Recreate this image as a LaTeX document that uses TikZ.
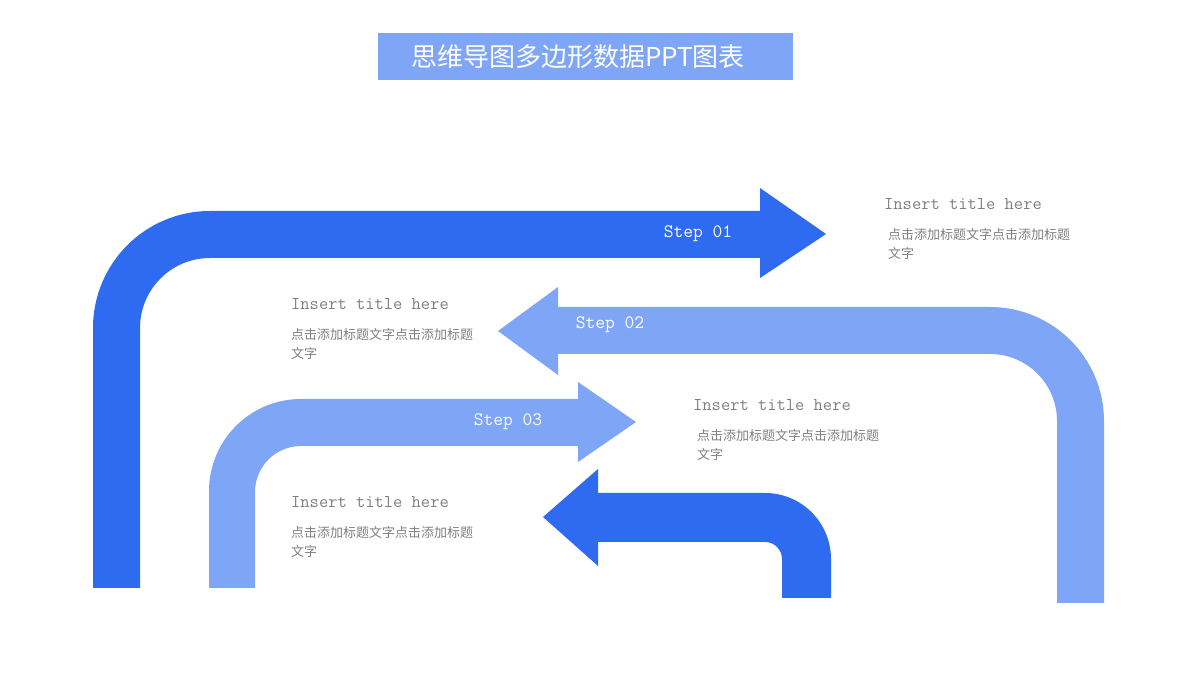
\documentclass[tikz,border=0pt]{standalone}
\usepackage{fontspec}
\newfontfamily\cjk{Noto Sans CJK SC}
\usetikzlibrary{positioning}
\definecolor{darkblue}{HTML}{2E6BF0}
\definecolor{lightblue}{HTML}{7FA5F7}
\definecolor{txtgray}{HTML}{7F7F7F}
\tikzset{
  heading/.style={anchor=west,inner sep=0pt,text=txtgray,font=\ttfamily\fontsize{18}{20}\selectfont},
  body/.style={anchor=north west,inner sep=0pt,text=txtgray,align=left,font=\cjk\fontsize{13}{19}\selectfont},
  steplabel/.style={inner sep=0pt,text=white,font=\ttfamily\fontsize{19}{21}\selectfont}
}
\begin{document}
\begin{tikzpicture}[x=1pt,y=1pt]
	\useasboundingbox (0,0) rectangle (1200,675);
	
	%TITLE
	\fill[lightblue] (378,595) rectangle (793,642);
	\node[text=white,font=\cjk\fontsize{26}{30}\selectfont] (title) at (578,618) {思维导图多边形数据PPT图表};
	
	%ARROWS
	\fill[darkblue] (93,87)--(93,347) arc[start angle=180,end angle=90,radius=117]
		--(760,464)--(760,487)--(826,441)--(760,397)--(760,417)--(210,417)
		arc[start angle=90,end angle=180,radius=70]--(140,87)--cycle;
	\fill[lightblue] (1104,72)--(1104,254) arc[start angle=0,end angle=90,radius=114]
		--(558,368)--(558,388)--(498,344)--(558,300)--(558,321)--(990,321)
		arc[start angle=90,end angle=0,radius=67]--(1057,72)--cycle;
	\fill[lightblue] (209,87)--(209,184) arc[start angle=180,end angle=90,radius=92]
		--(578,276)--(578,293)--(636,253)--(578,213)--(578,229)--(301,229)
		arc[start angle=90,end angle=180,radius=46]--(255,87)--cycle;
	\fill[darkblue] (831,77)--(831,116) arc[start angle=0,end angle=90,radius=66]
		--(598,182)--(598,206)--(543,158)--(598,109)--(598,133)--(765,133)
		arc[start angle=90,end angle=0,radius=17]--(782,77)--cycle;
	
	%STEP LABELS
	\node[steplabel] (step1) at (698,441) {Step 01};
	\node[steplabel] (step2) at (610,350) {Step 02};
	\node[steplabel] (step3) at (508,253) {Step 03};
	
	%TEXT BLOCKS
	\node[heading] (head1) at (884,471) {Insert title here};
	\node[body] (body1) at (888,447) {点击添加标题文字点击添加标题\\文字};
	\node[heading] (head2) at (291,371) {Insert title here};
	\node[body] (body2) at (291,347) {点击添加标题文字点击添加标题\\文字};
	\node[heading] (head3) at (693,270) {Insert title here};
	\node[body] (body3) at (697,246) {点击添加标题文字点击添加标题\\文字};
	\node[heading] (head4) at (291,173) {Insert title here};
	\node[body] (body4) at (291,149) {点击添加标题文字点击添加标题\\文字};
\end{tikzpicture}
\end{document}
